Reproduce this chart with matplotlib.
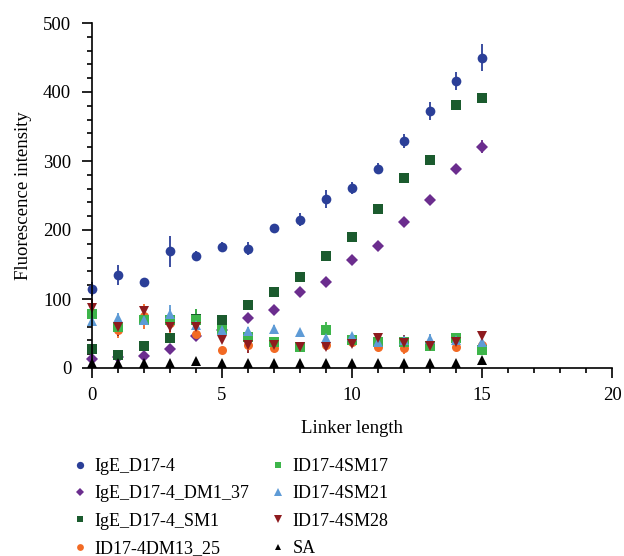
import matplotlib
matplotlib.use("Agg")
import matplotlib.pyplot as plt
from matplotlib.ticker import MultipleLocator
import numpy as np

plt.rcParams['font.family'] = ['Liberation Serif', 'DejaVu Serif']

x = list(range(16))

series_names = ["IgE_D17-4", "IgE_D17-4_DM1_37", "IgE_D17-4_SM1", "ID17-4DM13_25",
                "ID17-4SM17", "ID17-4SM21", "ID17-4SM28", "SA"]

ige = [114, 135, 124, 169, 162, 176, 173, 203, 215, 245, 261, 289, 329, 373, 416, 450]
ige_err = [10, 14, 0, 23, 7, 7, 9, 0, 9, 13, 9, 8, 10, 13, 13, 20]

dm1_37 = [13, 16, 17, 27, 47, 55, 73, 84, 110, 124, 156, 177, 211, 243, 288, 321]
dm1_37_err = [3, 3, 3, 3, 5, 4, 5, 7, 7, 5, 3, 3, 3, 5, 3, 10]

sm1 = [28, 19, 32, 43, 71, 69, 92, 110, 132, 163, 190, 231, 275, 302, 381, 392]
sm1_err = [3, 3, 3, 3, 14, 7, 4, 3, 3, 3, 3, 7, 3, 3, 4, 6]

dm13_25 = [80, 55, 75, 65, 49, 26, 34, 29, 32, 33, 38, 31, 29, 33, 31, 33]
dm13_25_err = [8, 12, 18, 20, 9, 4, 6, 4, 4, 4, 4, 4, 8, 5, 7, 6]

sm17 = [78, 59, 70, 70, 70, 55, 45, 38, 31, 55, 41, 38, 38, 32, 44, 26]
sm17_err = [8, 5, 8, 8, 15, 5, 8, 4, 3, 12, 4, 4, 4, 4, 7, 4]

sm21 = [68, 73, 70, 78, 62, 55, 54, 57, 52, 43, 46, 38, 40, 42, 41, 37]
sm21_err = [5, 7, 5, 13, 5, 5, 6, 5, 3, 5, 5, 4, 4, 7, 4, 4]

sm28 = [87, 59, 82, 59, 59, 41, 34, 33, 31, 31, 35, 44, 36, 32, 37, 46]
sm28_err = [13, 12, 8, 7, 12, 5, 12, 5, 4, 4, 4, 4, 12, 4, 4, 5]

sa = [7, 7, 7, 7, 10, 7, 7, 7, 7, 7, 7, 7, 7, 7, 7, 12]
sa_err = [0] * 16

values = [ige, dm1_37, sm1, dm13_25, sm17, sm21, sm28, sa]
errors = [ige_err, dm1_37_err, sm1_err, dm13_25_err, sm17_err, sm21_err, sm28_err, sa_err]
colors = ["#2B3F98", "#6B2D8E", "#1B5B2E", "#F26A24", "#3DB54A", "#5E9BD6", "#8E1B1E", "#000000"]
markers = ["o", "D", "s", "o", "s", "^", "v", "^"]
msizes = [7, 6, 6.5, 6.5, 6.5, 7, 7, 6.5]

fig = plt.figure(figsize=(6.24, 5.56), dpi=100)
ax = fig.add_axes([92/624, 1-368/556, (612-92)/624, (368-23)/556])

handles = []
for v, e, c, m, ms, name in zip(values, errors, colors, markers, msizes, series_names):
    eb = ax.errorbar(x, v, yerr=e, fmt=m, color=c, ecolor=c, markersize=ms,
                     markeredgewidth=0, capsize=4.2, elinewidth=1.3, capthick=1.3,
                     clip_on=False, label=name)
    for art in eb.lines[1] + eb.lines[2]:
        art.set_clip_on(False)
    h, = ax.plot([], [], linestyle='none', marker=m, color=c, markersize=ms*0.75,
                 markeredgewidth=0, label=name)
    handles.append(h)

ax.set_xlim(0, 20)
ax.set_ylim(0, 500)
ax.xaxis.set_major_locator(MultipleLocator(5))
ax.xaxis.set_minor_locator(MultipleLocator(1))
ax.yaxis.set_major_locator(MultipleLocator(100))
ax.yaxis.set_minor_locator(MultipleLocator(20))
ax.spines['top'].set_visible(False)
ax.spines['right'].set_visible(False)
for sp in ['left', 'bottom']:
    ax.spines[sp].set_linewidth(1.2)
ax.tick_params(which='major', length=7, width=1.2, labelsize=13.5, direction='out')
ax.tick_params(which='minor', length=3.5, width=1.2, direction='out')
ax.tick_params(axis='y', pad=8)
ax.tick_params(axis='x', pad=7)

ax.set_xlabel("Linker length", fontsize=13.5, labelpad=11)
ax.set_ylabel("Fluorescence intensity", fontsize=13.5, labelpad=8)

fig.legend(handles, series_names,
           loc='upper left', bbox_to_anchor=(71/624, 1-458/556), ncol=2,
           frameon=False, fontsize=13, handlelength=1.0, handletextpad=0.3,
           columnspacing=1.1, labelspacing=0.57, borderpad=0, borderaxespad=0)

fig.savefig("out.png", dpi=100)
